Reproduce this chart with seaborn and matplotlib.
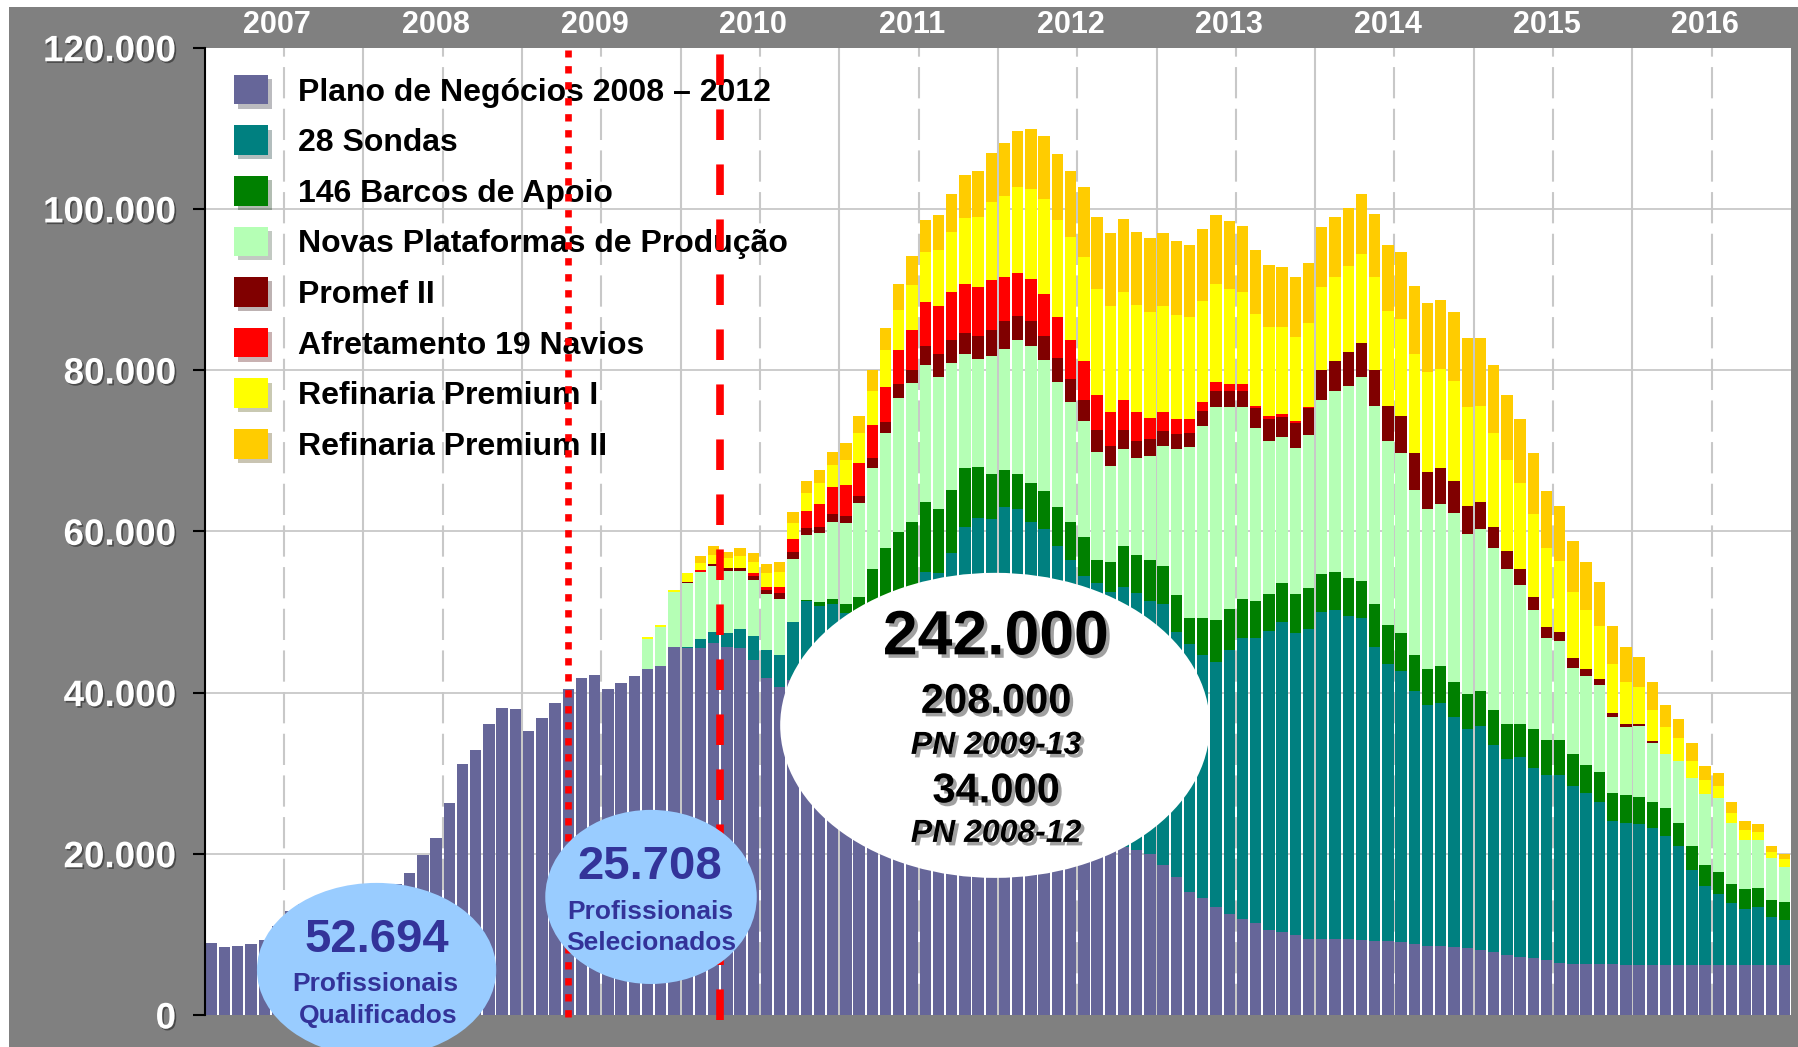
import seaborn as sns
import numpy as np
import pandas as pd
import matplotlib.pyplot as plt
import matplotlib.patheffects as pe
from matplotlib.patches import Ellipse, Patch, Rectangle
from matplotlib.transforms import blended_transform_factory

# one bar per month, Jan 2007 .. Dec 2016
months = pd.period_range("2007-01", "2016-12", freq="M").strftime("%Y-%m").tolist()
years = ["2007", "2008", "2009", "2010", "2011", "2012", "2013", "2014", "2015", "2016"]
y_ticks = [0, 20000, 40000, 60000, 80000, 100000, 120000]

plano = [8900, 8400, 8600, 8800, 9300, 11000, 12900, 13800, 14000, 14300,
         14600, 14900, 15200, 15600, 16300, 17600, 19900, 21900, 26300, 31100,
         32900, 36100, 38100, 37900, 35200, 36800, 38700, 40400, 41800, 42200,
         40500, 41200, 42000, 42900, 43300, 45700, 45500, 45500, 46100, 45700,
         45500, 44100, 41800, 40700, 41500, 40500, 39500, 38000, 36500, 35000,
         33500, 32000, 30500, 29000, 28000, 27000, 26000, 25200, 24500, 24000,
         23500, 23000, 22600, 22300, 22000, 21700, 21400, 21200, 21000, 20800,
         20500, 20000, 18600, 17100, 15300, 14500, 13350, 12500, 11850, 11450,
         10550, 10350, 9900, 9450, 9450, 9450, 9400, 9300, 9200, 9200,
         9000, 8800, 8550, 8550, 8400, 8250, 8050, 7750, 7450, 7250,
         7050, 6800, 6400, 6300, 6300, 6300, 6300, 6200, 6200, 6200,
         6200, 6200, 6200, 6200, 6200, 6200, 6200, 6200, 6200, 6200]
sondas = [0] * 36 + [200, 1100, 1400, 1750, 2400, 2900, 3500, 3900, 7300, 10800,
                     11300, 13000, 13350, 14400, 15500, 17500, 20000, 23500, 27000, 27800,
                     31300, 35400, 37200, 37500, 39500, 39750, 38600, 38000, 36200, 34700,
                     33100, 32400, 31500, 32300, 31800, 31400, 32400, 30400, 30700, 30150,
                     30450, 32750, 34950, 35350, 37100, 38450, 37550, 38450, 40600, 40800,
                     40050, 39900, 36500, 34350, 33700, 31450, 29950, 30150, 28550, 27200,
                     27800, 25750, 24300, 24750, 23550, 23000, 23400, 22150, 21300, 20150,
                     17800, 17650, 17450, 17050, 15950, 14800, 11800, 9800, 8750, 7650,
                     6950, 7150, 5900, 5600]
barcos = [0] * 45 + [200, 400, 600, 1150, 2400, 6300, 8400, 9400, 8700, 8600,
                     7950, 7850, 7200, 6300, 5600, 4550, 4350, 4850, 4650, 4800,
                     4800, 4800, 2850, 3650, 5050, 4800, 5000, 4750, 4600, 3300,
                     4550, 5200, 5100, 4800, 4600, 4600, 4750, 4800, 5050, 4650,
                     4650, 4750, 4600, 5250, 4800, 4750, 4350, 4400, 4600, 4400,
                     4350, 4400, 4350, 4350, 4100, 4850, 4300, 4300, 3950, 3400,
                     3750, 3500, 3450, 3450, 3200, 3500, 2850, 3000, 2600, 2750,
                     2350, 2450, 2450, 2150, 2250]
plataformas = [0] * 33 + [3700, 4800, 6800, 7850, 8300, 8250, 7650, 7200, 7000, 6950,
                          7000, 7800, 8000, 8650, 9600, 10000, 11700, 12550, 14300, 16600,
                          17200, 17050, 16450, 15700, 14200, 13350, 14600, 15050, 16650, 17000,
                          16250, 15500, 14900, 14400, 13350, 11900, 12050, 12000, 12900, 14850,
                          18100, 21150, 23850, 26450, 25100, 23850, 21400, 19000, 18150, 18150,
                          19000, 21600, 22500, 23850, 25350, 24650, 22900, 22250, 20550, 19850,
                          20100, 20950, 19850, 20050, 20100, 19200, 17200, 14850, 12700, 12250,
                          10700, 11000, 10700, 9400, 8450, 8750, 7350, 6750, 7650, 8350,
                          8800, 9250, 7650, 6100, 5900, 5250, 4350]
promef = [0] * 36 + [200, 0, 200, 400, 350, 400, 500, 750, 900, 900,
                     750, 950, 850, 900, 1250, 1400, 1750, 1650, 2400, 2800,
                     2900, 2600, 2850, 3300, 3500, 3000, 3050, 3000, 3050, 2800,
                     2600, 2800, 2550, 2400, 2150, 2150, 1900, 1900, 1800, 1900,
                     1950, 1950, 1950, 2450, 2700, 2450, 3100, 3300, 3700, 3700,
                     4150, 4200, 4400, 4350, 4600, 4550, 4600, 4400, 3950, 3550,
                     3300, 2600, 2250, 2000, 1550, 1350, 1200, 1200, 900, 750,
                     450, 350, 250, 200] + [0] * 10
afretamento = [0] * 37 + [250, 0, 0, 0, 450, 400, 800, 1500, 2150, 2800,
                          3300, 3900, 4050, 4100, 4300, 4200, 4950, 5450, 5900, 5900,
                          6100, 6100, 6150, 5450, 5300, 5250, 5300, 5050, 4850, 4800,
                          4350, 4150, 3700, 3500, 2650, 2250, 1800, 1650, 1150, 1100,
                          900, 900, 350, 350, 450, 150, 200] + [0] * 36
premium1 = [0] * 33 + [250, 250, 250, 1100, 900, 1150, 1150, 1450, 1400, 1650,
                       1800, 2000, 2150, 2650, 2800, 3100, 3750, 4250, 4600, 5050,
                       5600, 6200, 7050, 7450, 8150, 8750, 9650, 10100, 10650, 11150,
                       11700, 12000, 12750, 12900, 13100, 13150, 13350, 13350, 13100, 13150,
                       12900, 12700, 12450, 12250, 11800, 11350, 11400, 11000, 10700, 10450,
                       10450, 10350, 10450, 10700, 11100, 11550, 11750, 12050, 12300, 12450,
                       12400, 12400, 12200, 12000, 11600, 11300, 10750, 10250, 9800, 8800,
                       8150, 7400, 6650, 6100, 5250, 4550, 3850, 3300, 2850, 2150,
                       1750, 1500, 1250, 1250, 950, 750, 900]
premium2 = [0] * 37 + [850, 1100, 850, 1050, 1050, 1150, 1250, 1350, 1600, 1500,
                       1650, 2150, 2100, 2600, 2700, 3200, 3600, 3900, 4250, 4800,
                       5400, 5600, 6100, 6550, 7000, 7400, 7900, 8250, 8150, 8700,
                       8950, 9100, 9100, 9100, 9200, 9100, 9200, 8950, 8950, 8450,
                       8450, 8200, 7850, 7800, 7550, 7450, 7450, 7400, 7450, 7200,
                       7400, 7850, 8150, 8250, 8450, 8550, 8550, 8550, 8600, 8400,
                       8500, 8100, 7900, 7600, 7000, 6800, 6300, 5900, 5450, 4750,
                       4350, 3750, 3450, 2750, 2400, 2200, 1750, 1550, 1350, 1150,
                       1000, 750, 650]

series = [
    ("Plano de Negócios 2008 – 2012", plano, "#666699"),
    ("28 Sondas", sondas, "#008080"),
    ("146 Barcos de Apoio", barcos, "#008000"),
    ("Novas Plataformas de Produção", plataformas, "#B5FFB5"),
    ("Promef II", promef, "#800000"),
    ("Afretamento 19 Navios", afretamento, "#FF0000"),
    ("Refinaria Premium I", premium1, "#FFFF00"),
    ("Refinaria Premium II", premium2, "#FFCC00"),
]
for _, vals, _ in series:
    assert len(vals) == len(months)

sns.set_theme(style="white")
plt.rcParams["font.family"] = ["Liberation Sans", "DejaVu Sans"]

fig = plt.figure(figsize=(17.99, 10.47), dpi=100, facecolor="white")
fig.add_artist(Rectangle((9 / 1799, 0), 1, 1 - 7 / 1047, transform=fig.transFigure,
                         facecolor="#808080", edgecolor="none", zorder=-1))
ax = fig.add_axes([0.1138, 0.0306, 0.8818, 0.9238])
ax.set_facecolor("white")

# stacked bars: draw cumulative totals from the top layer down
df = pd.DataFrame({name: vals for name, vals, _ in series}, index=months)
cum = df.cumsum(axis=1)
for name, _, color in reversed(series):
    sns.barplot(x=months, y=cum[name].values, color=color, saturation=1, width=0.86,
                errorbar=None, linewidth=0, edgecolor="none", ax=ax, zorder=2)

ax.set_xlim(-0.5, 119.5)
ax.set_ylim(0, 120000)
ax.set_xticks([])
ax.set_xlabel("")
ax.set_ylabel("")

# grid
for yv in y_ticks[1:-1]:
    ax.axhline(yv, color="#c8c8c8", lw=1.3, zorder=0)
for k in range(10):
    ax.axvline(5.5 + 12 * k, color="#c8c8c8", lw=1.5, ls=(0, (15, 5)), zorder=0)
    if k < 9:
        ax.axvline(11.5 + 12 * k, color="#c8c8c8", lw=1.5, zorder=0)

for side in ["top", "right", "bottom"]:
    ax.spines[side].set_visible(False)
ax.spines["left"].set_color("black")
ax.spines["left"].set_linewidth(1.5)

labels = [f"{v:,}".replace(",", ".") for v in y_ticks]
ax.set_yticks(y_ticks)
ax.set_yticklabels(labels, fontweight="bold")
ax.tick_params(axis="y", left=True, direction="out", length=8.6, width=1.5,
               color="black", labelcolor="white", labelsize=26.5, pad=12)
for t in ax.get_yticklabels():
    t.set_path_effects([pe.withSimplePatchShadow(offset=(1.2, -1.2),
                                                 shadow_rgbFace="#333333", alpha=0.7)])

# year labels in the grey band
trans = blended_transform_factory(ax.transData, ax.transAxes)
for k, yr in enumerate(years):
    ax.text(5 + 12 * k, 1.0235, yr, transform=trans, ha="center", va="center",
            fontsize=22, fontweight="bold", color="white")

# reference lines
ax.plot([27.0, 27.0], [-250, 119700], color="#FF0000", lw=4.8, ls=(0, (1.1, 1.3)),
        zorder=4, clip_on=False)
ax.plot([38.45, 38.45], [-600, 119700], color="#FF0000", lw=5.5, ls=(0, (4, 3.2)),
        zorder=4, clip_on=False)

# legend
handles = [Patch(facecolor=c, edgecolor="none") for _, _, c in series]
leg = ax.legend(handles, [n for n, _, _ in series], loc="upper left",
                bbox_to_anchor=(0.0185, 0.972), frameon=False,
                prop={"size": 23, "weight": "bold"}, handlelength=1.05,
                handleheight=1.05, handletextpad=0.95, labelspacing=0.56,
                borderpad=0, borderaxespad=0)
leg.set_zorder(3)
for t in leg.get_texts():
    t.set_color("black")
for p in leg.get_patches():
    p.set_path_effects([pe.SimplePatchShadow(offset=(3, -3)), pe.Normal()])

# bubbles
blue_txt = "#333399"
ax.add_patch(Ellipse((12.5, 5585), 18.1, 21600, facecolor="#99CCFF",
                     edgecolor="none", zorder=5, clip_on=False))
ax.text(12.5, 9300, "52.694", ha="center", va="center", fontsize=34,
        fontweight="bold", color=blue_txt, zorder=6)
ax.text(12.4, 3850, "Profissionais", ha="center", va="center", fontsize=19,
        fontweight="bold", color=blue_txt, zorder=6)
ax.text(12.6, -120, "Qualificados", ha="center", va="center", fontsize=19,
        fontweight="bold", color=blue_txt, zorder=6)

ax.add_patch(Ellipse((33.26, 14644), 16.0, 21600, facecolor="#99CCFF",
                     edgecolor="none", zorder=5, clip_on=False))
ax.text(33.2, 18370, "25.708", ha="center", va="center", fontsize=34,
        fontweight="bold", color=blue_txt, zorder=6)
ax.text(33.2, 12780, "Profissionais", ha="center", va="center", fontsize=19,
        fontweight="bold", color=blue_txt, zorder=6)
ax.text(33.26, 8935, "Selecionados", ha="center", va="center", fontsize=19,
        fontweight="bold", color=blue_txt, zorder=6)

ax.add_patch(Ellipse((59.28, 35930), 32.5, 37850, facecolor="white",
                     edgecolor="none", zorder=5, clip_on=False))
shadow = [pe.withSimplePatchShadow(offset=(2.5, -2.5), shadow_rgbFace="#a0a0a0", alpha=1)]
for txt, yv, size, style in [("242.000", 46790, 45, "normal"),
                             ("208.000", 38840, 30, "normal"),
                             ("PN 2009-13", 33380, 23, "italic"),
                             ("34.000", 27740, 30, "normal"),
                             ("PN 2008-12", 22460, 23, "italic")]:
    ax.text(59.36, yv, txt, ha="center", va="center", fontsize=size,
            fontweight="bold", fontstyle=style, color="black", zorder=6,
            path_effects=shadow)

fig.savefig("out.png", dpi=100)
